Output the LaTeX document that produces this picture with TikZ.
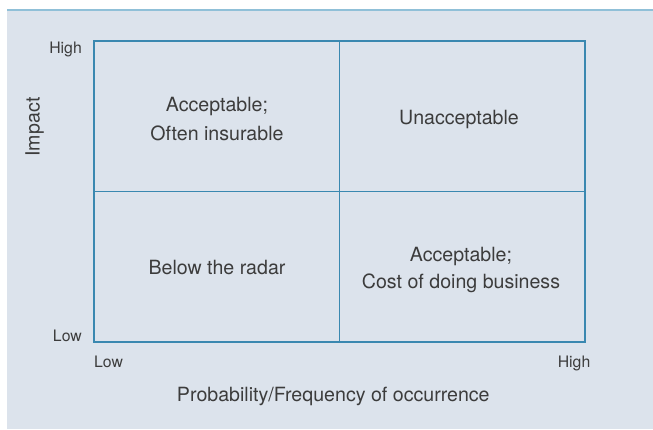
\documentclass[tikz,border=0pt]{standalone}
\usepackage{fontspec}
\setmainfont{TeX Gyre Heros}
\begin{document}
\definecolor{panelbg}{HTML}{DCE3EC}
\definecolor{gridline}{HTML}{3A88B0}
\definecolor{topline}{HTML}{90C0D8}
\definecolor{labeltext}{HTML}{3C3C3C}
\begin{tikzpicture}[x=1pt,y=-1pt,
  quadtext/.style={text=labeltext,font=\fontsize{19.6}{28}\selectfont,inner sep=0pt,anchor=base},
  ticktext/.style={text=labeltext,font=\fontsize{15.8}{19}\selectfont,inner sep=0pt},
  axistext/.style={text=labeltext,font=\fontsize{19.6}{23}\selectfont,inner sep=0pt,anchor=base},
  grid/.style={draw=gridline,line width=1.3pt}]
\useasboundingbox (0,0) rectangle (653,429);
% panel background and its top rule
\fill[panelbg] (7,10) rectangle (653,429);
\draw[topline,line width=1.6pt] (7,10) -- (653,10);
% the 2x2 matrix
\coordinate (tl) at (94,41);
\coordinate (br) at (585,342);
\coordinate (mt) at (339.5,41);
\coordinate (mb) at (339.5,342);
\coordinate (ml) at (94,191.5);
\coordinate (mr) at (585,191.5);
\draw[grid] (tl) rectangle (br);
\draw[grid] (mt) -- (mb);
\draw[grid] (ml) -- (mr);
% quadrant labels
\node[quadtext] (q1a) at (217,111.7) {Acceptable;};
\node[quadtext] (q1b) at (217,140) {Often insurable};
\node[quadtext] (q2) at (459,124) {Unacceptable};
\node[quadtext] (q3) at (217,274) {Below the radar};
\node[quadtext] (q4a) at (461,261.7) {Acceptable;};
\node[quadtext] (q4b) at (461,288.3) {Cost of doing business};
% axis ticks
\node[ticktext,anchor=base east] (yhi) at (82,53.3) {High};
\node[ticktext,anchor=base east] (ylo) at (82,341.7) {Low};
\node[ticktext,anchor=base west] (xlo) at (94,367.3) {Low};
\node[ticktext,anchor=base east] (xhi) at (590.5,367.3) {High};
% axis titles
\node[axistext] (xtitle) at (333.3,401.7) {Probability/Frequency of occurrence};
\node[axistext,rotate=90] (ytitle) at (39.5,127) {Impact};
\end{tikzpicture}
\end{document}
